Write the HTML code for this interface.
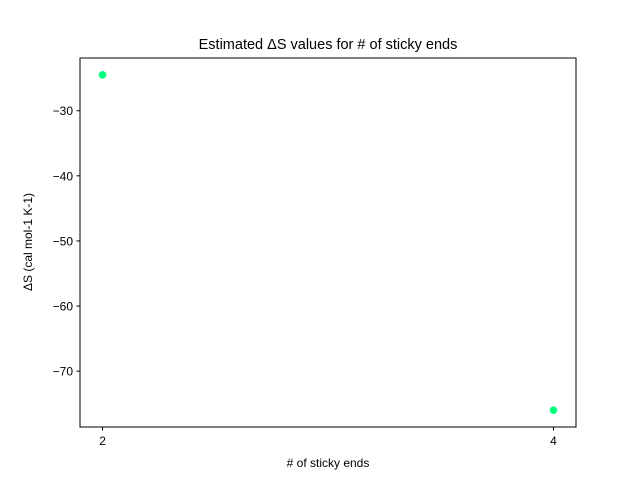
<!DOCTYPE html>
<html><head><meta charset="utf-8"><style>
html,body{margin:0;padding:0;background:#fff;}
svg text{font-family:"Liberation Sans","DejaVu Sans",sans-serif;fill:#000;}
</style></head><body>
<svg id="chart" width="640" height="480" xmlns="http://www.w3.org/2000/svg">
<rect width="640" height="480" fill="#fff"/>
<text x="328" y="49" font-size="14.5" text-anchor="middle">Estimated ΔS values for # of sticky ends</text>
<g id="ticks"></g>
<g id="points"></g>
<rect x="80" y="58" width="496" height="369" fill="none" stroke="#000" stroke-width="1"/>
<text x="328" y="467" font-size="12" text-anchor="middle"># of sticky ends</text>
<text x="0" y="0" font-size="12" text-anchor="middle" transform="translate(32,242) rotate(-90)">ΔS (cal mol-1 K-1)</text>
</svg>
<script>
const categories = [2, 4];
const dsValues = [-24.48, -76.0];
const xTicks = [2, 4];
const yTicks = [-30, -40, -50, -60, -70];

const X0=80, X1=576, Y0=58, Y1=427;
const xMin=1.9, xMax=4.1, yMin=-78.58, yMax=-21.9;
function sx(v){return X0+(v-xMin)/(xMax-xMin)*(X1-X0);}
function sy(v){return Y1-(v-yMin)/(yMax-yMin)*(Y1-Y0);}
const NS="http://www.w3.org/2000/svg";
const tg=document.getElementById('ticks');
const pg=document.getElementById('points');
function mk(tag,attrs){const e=document.createElementNS(NS,tag);for(const k in attrs)e.setAttribute(k,attrs[k]);return e;}
xTicks.forEach(t=>{
  const x=sx(t);
  const l=mk('line',{x1:x,x2:x,y1:Y1,y2:Y1+3.5,stroke:'#000'});
  
  
  tg.appendChild(l);
  const tx=mk('text',{x:x,y:Y1+18,'font-size':12,'text-anchor':'middle'});
  tx.textContent=String(t);
  
  
  tg.appendChild(tx);
});
yTicks.forEach(t=>{
  const y=sy(t);
  const l=mk('line',{x1:X0-3.5,x2:X0,y1:y,y2:y,stroke:'#000'});
  
  
  tg.appendChild(l);
  const tx=mk('text',{x:X0-7,y:y+4.5,'font-size':12,'text-anchor':'end'});
  tx.textContent='\u2212'+Math.abs(t);
  
  
  tg.appendChild(tx);
});
categories.forEach((c,i)=>{
  const p=mk('circle',{cx:sx(c),cy:sy(dsValues[i]),r:3.8,fill:'#00ff7f'});
  
  
  pg.appendChild(p);
});
</script>
</body></html>
